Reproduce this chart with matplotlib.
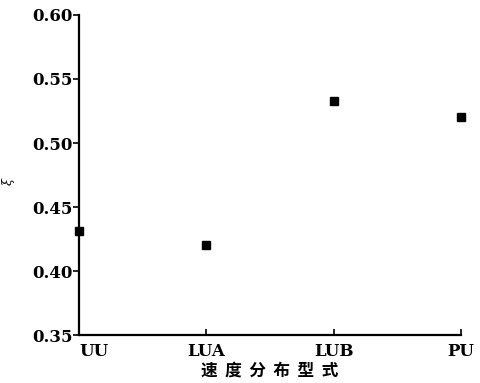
import matplotlib.pyplot as plt
from matplotlib.transforms import ScaledTranslation

categories = ['UU', 'LUA', 'LUB', 'PU']
xi_values = [0.431, 0.420, 0.533, 0.520]
y_ticks = [0.35, 0.40, 0.45, 0.50, 0.55, 0.60]


def main():
    fig = plt.figure(figsize=(4.8, 3.83), dpi=100)
    ax = fig.add_axes([0.165, 0.125, 0.795, 0.836])

    x = list(range(len(categories)))
    ax.plot(x, xi_values, 's', color='black', markersize=5.5, clip_on=False, zorder=3)

    ax.set_xlim(0, len(categories) - 1)
    ax.set_ylim(0.35, 0.60)
    ax.set_xticks(x)
    ax.set_xticklabels(categories, family='DejaVu Serif', fontweight='bold', fontsize=12)
    ax.set_yticks(y_ticks)
    ax.set_yticklabels(['{:.2f}'.format(v) for v in y_ticks],
                       family='DejaVu Serif', fontweight='bold', fontsize=12)

    # first category label sits to the right of its tick, as in the original
    first = ax.get_xticklabels()[0]
    first.set_horizontalalignment('left')
    first.set_transform(first.get_transform() + ScaledTranslation(-4 / 100, 0, fig.dpi_scale_trans))

    ax.spines['top'].set_visible(False)
    ax.spines['right'].set_visible(False)
    ax.spines['left'].set_linewidth(1.6)
    ax.spines['bottom'].set_linewidth(1.6)
    ax.tick_params(axis='y', direction='out', length=4, width=1.2, pad=1)
    ax.tick_params(axis='x', direction='in', length=4, width=1.2, pad=6)

    ax.set_xlabel('速  度  分  布  型  式', family=['Noto Sans CJK SC', 'DejaVu Sans'],
                  fontweight='bold', fontsize=12, labelpad=1)
    ax.set_ylabel('ξ', family='DejaVu Serif', style='italic', fontsize=9)
    ax.yaxis.set_label_coords(-0.17, 0.48)

    plt.savefig('out.png', dpi=100)


if __name__ == '__main__':
    main()
